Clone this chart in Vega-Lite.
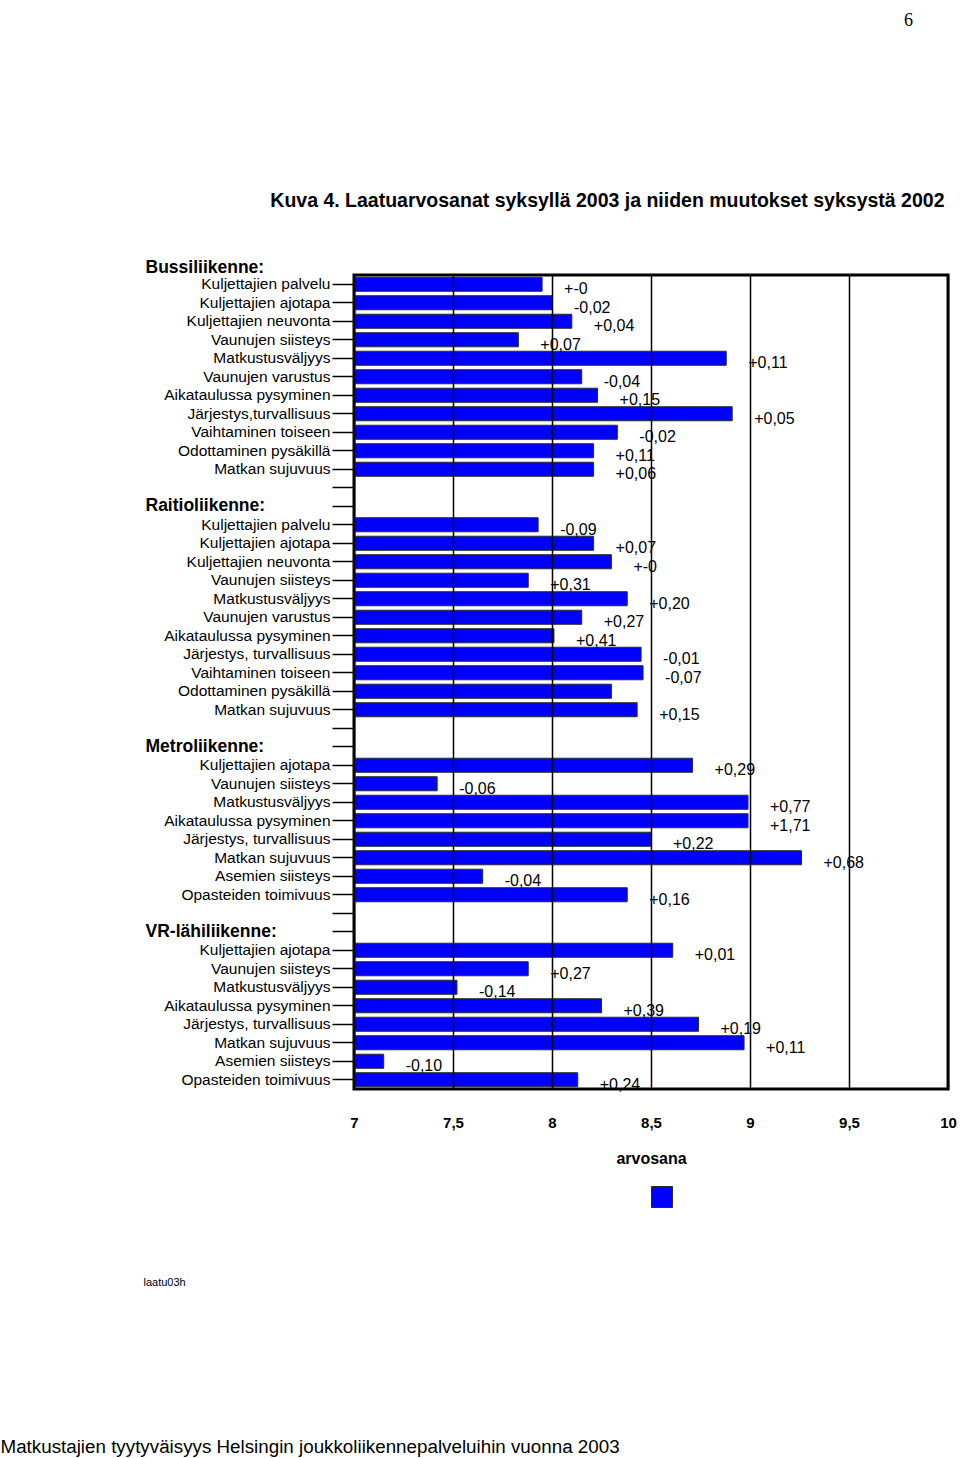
{
  "$schema": "https://vega.github.io/schema/vega-lite/v6.json",
  "width": 594,
  "height": 814,
  "autosize": "none",
  "padding": {"left": 354, "top": 275, "right": 12, "bottom": 369},
  "background": "white",
  "title": {"text": "6", "anchor": "end", "frame": "group", "orient": "top", "font": "Liberation Serif", "fontSize": 18, "fontWeight": "normal", "color": "black", "offset": 160, "dx": -35},
  "config": {
    "view": {"stroke": "black", "strokeWidth": 3},
    "font": "Liberation Sans",
    "axis": {"labelColor": "black", "titleColor": "black", "labelLimit": 400, "titleLimit": 1000}
  },
  "data": {"values": [
    {"k": "00i:Kuljettajien palvelu", "v": 7.95, "c": "+-0"},
    {"k": "01i:Kuljettajien ajotapa", "v": 8.0, "c": "-0,02"},
    {"k": "02i:Kuljettajien neuvonta", "v": 8.1, "c": "+0,04"},
    {"k": "03i:Vaunujen siisteys", "v": 7.83, "c": "+0,07"},
    {"k": "04i:Matkustusväljyys", "v": 8.88, "c": "+0,11"},
    {"k": "05i:Vaunujen varustus", "v": 8.15, "c": "-0,04"},
    {"k": "06i:Aikataulussa pysyminen", "v": 8.23, "c": "+0,15"},
    {"k": "07i:Järjestys,turvallisuus", "v": 8.91, "c": "+0,05"},
    {"k": "08i:Vaihtaminen toiseen", "v": 8.33, "c": "-0,02"},
    {"k": "09i:Odottaminen pysäkillä", "v": 8.21, "c": "+0,11"},
    {"k": "10i:Matkan sujuvuus", "v": 8.21, "c": "+0,06"},
    {"k": "11b:", "v": null, "c": null},
    {"k": "12h:Raitioliikenne:", "v": null, "c": null},
    {"k": "13i:Kuljettajien palvelu", "v": 7.93, "c": "-0,09"},
    {"k": "14i:Kuljettajien ajotapa", "v": 8.21, "c": "+0,07"},
    {"k": "15i:Kuljettajien neuvonta", "v": 8.3, "c": "+-0"},
    {"k": "16i:Vaunujen siisteys", "v": 7.88, "c": "+0,31"},
    {"k": "17i:Matkustusväljyys", "v": 8.38, "c": "+0,20"},
    {"k": "18i:Vaunujen varustus", "v": 8.15, "c": "+0,27"},
    {"k": "19i:Aikataulussa pysyminen", "v": 8.01, "c": "+0,41"},
    {"k": "20i:Järjestys, turvallisuus", "v": 8.45, "c": "-0,01"},
    {"k": "21i:Vaihtaminen toiseen", "v": 8.46, "c": "-0,07"},
    {"k": "22i:Odottaminen pysäkillä", "v": 8.3, "c": null},
    {"k": "23i:Matkan sujuvuus", "v": 8.43, "c": "+0,15"},
    {"k": "24b:", "v": null, "c": null},
    {"k": "25h:Metroliikenne:", "v": null, "c": null},
    {"k": "26i:Kuljettajien ajotapa", "v": 8.71, "c": "+0,29"},
    {"k": "27i:Vaunujen siisteys", "v": 7.42, "c": "-0,06"},
    {"k": "28i:Matkustusväljyys", "v": 8.99, "c": "+0,77"},
    {"k": "29i:Aikataulussa pysyminen", "v": 8.99, "c": "+1,71"},
    {"k": "30i:Järjestys, turvallisuus", "v": 8.5, "c": "+0,22"},
    {"k": "31i:Matkan sujuvuus", "v": 9.26, "c": "+0,68"},
    {"k": "32i:Asemien siisteys", "v": 7.65, "c": "-0,04"},
    {"k": "33i:Opasteiden toimivuus", "v": 8.38, "c": "+0,16"},
    {"k": "34b:", "v": null, "c": null},
    {"k": "35h:VR-lähiliikenne:", "v": null, "c": null},
    {"k": "36i:Kuljettajien ajotapa", "v": 8.61, "c": "+0,01"},
    {"k": "37i:Vaunujen siisteys", "v": 7.88, "c": "+0,27"},
    {"k": "38i:Matkustusväljyys", "v": 7.52, "c": "-0,14"},
    {"k": "39i:Aikataulussa pysyminen", "v": 8.25, "c": "+0,39"},
    {"k": "40i:Järjestys, turvallisuus", "v": 8.74, "c": "+0,19"},
    {"k": "41i:Matkan sujuvuus", "v": 8.97, "c": "+0,11"},
    {"k": "42i:Asemien siisteys", "v": 7.15, "c": "-0,10"},
    {"k": "43i:Opasteiden toimivuus", "v": 8.13, "c": "+0,24"}
  ]},
  "resolve": {"axis": {"x": "independent", "y": "independent"}},
  "layer": [
    {
      "mark": {"type": "rule", "strokeOpacity": 0},
      "encoding": {
        "y": {
          "field": "k", "type": "nominal",
          "scale": {"type": "band", "paddingInner": 0.24, "paddingOuter": 0.12},
          "axis": {
            "orient": "left", "domain": false, "ticks": false, "tickSize": 0, "grid": false,
            "labelAlign": "left", "labelPadding": 209, "labelFontSize": 17.5, "labelFontWeight": "bold", "labelBaseline": "middle",
            "labelExpr": "substring(datum.value,2,3)=='h' ? substring(datum.value,4) : ''",
            "title": "Bussiliikenne:", "titleAngle": 0, "titleAlign": "left", "titleBaseline": "middle",
            "titleX": -209, "titleY": -8, "titleFontSize": 17.5, "titleFontWeight": "bold"
          }
        }
      }
    },
    {
      "mark": {"type": "bar", "stroke": "#2b2b2b", "strokeWidth": 1},
      "encoding": {
        "y": {
          "field": "k", "type": "nominal",
          "scale": {"type": "band", "paddingInner": 0.24, "paddingOuter": 0.12},
          "axis": {
            "orient": "left", "domain": false, "grid": false, "ticks": true, "tickSize": 22, "tickWidth": 1.5, "tickColor": "black",
            "labelPadding": 2, "labelFontSize": 15.5, "labelBaseline": "middle",
            "labelExpr": "substring(datum.value,2,3)=='i' ? substring(datum.value,4) : ''",
            "title": "laatu03h", "titleAngle": 0, "titleAlign": "left", "titleBaseline": "middle",
            "titleX": -211, "titleY": 1007, "titleFontSize": 11, "titleFontWeight": "normal"
          }
        },
        "x": {
          "field": "v", "type": "quantitative",
          "scale": {"domain": [7, 10], "nice": false, "zero": false},
          "axis": {
            "orient": "bottom", "values": [7, 7.5, 8, 8.5, 9, 9.5, 10], "grid": true, "gridColor": "black", "gridWidth": 1.5,
            "ticks": false, "domain": false, "labelFlush": false,
            "labelExpr": "replace(format(datum.value, '~g'), '.', ',')", "labelFontSize": 15, "labelFontWeight": "bold", "labelPadding": 26,
            "title": "arvosana", "titleFontSize": 16, "titleFontWeight": "bold", "titlePadding": 20, "zindex": 1
          }
        },
        "x2": {"datum": 7},
        "color": {
          "datum": "arvosana",
          "scale": {"range": ["#0000ff"]},
          "legend": {
            "orient": "none", "legendX": 297, "legendY": 911, "title": null, "labelExpr": "''",
            "symbolType": "square", "symbolSize": 440, "symbolStrokeColor": "#2b2b2b", "symbolStrokeWidth": 1, "symbolOpacity": 1, "padding": 0
          }
        }
      }
    },
    {
      "transform": [{"filter": "datum.c != null"}],
      "mark": {"type": "text", "align": "left", "baseline": "middle", "dx": 22, "dy": 5, "fontSize": 16, "color": "black"},
      "encoding": {
        "x": {
          "field": "v", "type": "quantitative",
          "axis": {
            "orient": "top", "labels": false, "ticks": false, "domain": false, "grid": false,
            "title": "Kuva 4. Laatuarvosanat syksyllä 2003 ja niiden muutokset syksystä 2002",
            "titleX": 590, "titleY": -75, "titleAlign": "right", "titleBaseline": "middle", "titleAngle": 0,
            "titleFont": "Liberation Sans", "titleFontSize": 19.5, "titleFontWeight": "bold"
          }
        },
        "y": {
          "field": "k", "type": "nominal",
          "scale": {"type": "band", "paddingInner": 0.24, "paddingOuter": 0.12},
          "axis": {
            "orient": "left", "labels": false, "ticks": false, "domain": false, "grid": false,
            "title": "Matkustajien tyytyväisyys Helsingin joukkoliikennepalveluihin vuonna 2003",
            "titleAngle": 0, "titleX": -354, "titleY": 1171, "titleAlign": "left", "titleBaseline": "middle",
            "titleFontSize": 18.8, "titleFontWeight": "normal"
          }
        },
        "text": {"field": "c"}
      }
    }
  ]
}
